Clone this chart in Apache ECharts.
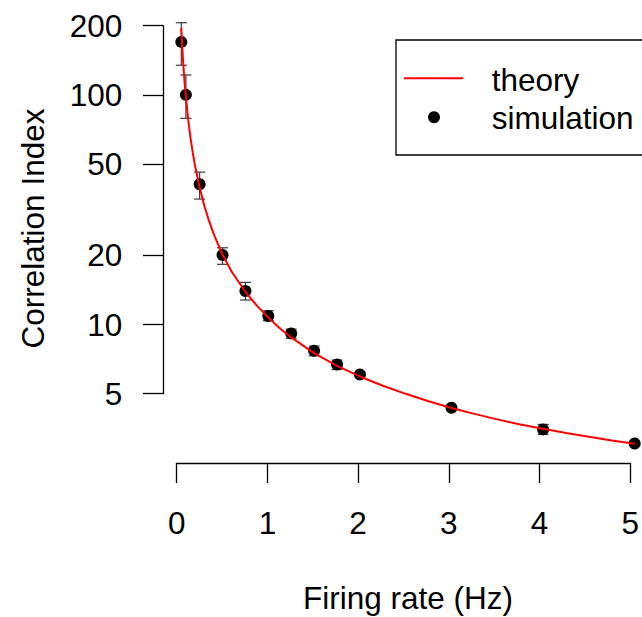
<!DOCTYPE html>
<html>
<head>
<meta charset="utf-8">
<script src="https://cdn.jsdelivr.net/npm/echarts@6/dist/echarts.min.js"></script>
<style>
html,body{margin:0;padding:0;background:#fff;}
#chart{width:642px;height:617px;}
</style>
</head>
<body>
<div id="chart"></div>
<script>
// ---- data ----
const rates   = [0.05, 0.1, 0.25, 0.5, 0.75, 1, 1.25, 1.5, 1.75, 2, 3, 4, 5];
const simMean = [170, 100, 40.8, 20.1, 14.0, 10.9, 9.16, 7.69, 6.71, 6.07, 4.35, 3.50, 3.04];
const simLo   = [134.5, 79, 35.2, 18.3, 12.8, 10.4, 8.72, 7.32, 6.38, 5.95, 4.27, 3.33, 2.99];
const simHi   = [206, 122, 46.1, 21.6, 15.27, 11.5, 9.56, 8.07, 7.01, 6.20, 4.43, 3.68, 3.10];
const theoryX = [0.05, 0.06, 0.07, 0.075, 0.085, 0.1, 0.125, 0.15, 0.175, 0.2, 0.25, 0.3, 0.35, 0.4, 0.45, 0.5, 0.6, 0.75, 0.875, 1, 1.125, 1.25, 1.5, 1.75, 2, 2.25, 2.5, 2.75, 3, 3.25, 3.5, 3.75, 4, 4.25, 4.5, 4.75, 5];
const theoryY = [196, 162, 139, 130, 114, 98, 78, 65, 56, 49, 39.6, 33, 28.5, 25, 22.4, 20.2, 17, 13.9, 12.1, 10.75, 9.65, 8.8, 7.52, 6.62, 5.95, 5.42, 5.0, 4.64, 4.34, 4.09, 3.87, 3.68, 3.52, 3.38, 3.25, 3.13, 3.03];
const xTicks  = [0, 1, 2, 3, 4, 5];
const yTicks  = [5, 10, 20, 50, 100, 200];
const xTitle  = 'Firing rate (Hz)';
const yTitle  = 'Correlation Index';
const legendNames = ['theory', 'simulation'];

const FONT = '"Liberation Sans", Arial, Helvetica, sans-serif';
const FS = 31.5;

const chart = echarts.init(document.getElementById('chart'), null, {renderer: 'svg'});

const simData = rates.map((r, i) => [r, simMean[i]]);
const errData = rates.map((r, i) => [r, simLo[i], simHi[i]]);
const theoryData = theoryX.map((x, i) => [x, theoryY[i]]);
const lg = v => Math.log10(v);

const option = {
  animation: false,
  backgroundColor: '#fff',
  grid: [
    {left: 163, right: 0, top: 3.4, bottom: 154},              // data area
    {left: 176.7, right: 7.4, top: 453, bottom: 154},          // x-axis display
    {left: 163, width: 10, top: 25.7, bottom: 223.3}           // y-axis display
  ],
  xAxis: [
    {gridIndex: 0, type: 'value', min: -0.15, max: 5.08, show: false},
    {gridIndex: 1, type: 'value', min: xTicks[0], max: xTicks[xTicks.length - 1], interval: 1,
      axisLine: {show: true, lineStyle: {color: '#000', width: 1.3}},
      axisTick: {show: true, length: 20, lineStyle: {color: '#000', width: 1.3}},
      axisLabel: {show: true, margin: 43.5, color: '#000', fontSize: FS, fontFamily: FONT},
      splitLine: {show: false}},
    {gridIndex: 2, type: 'value', show: false}
  ],
  yAxis: [
    {gridIndex: 0, type: 'log', min: 2.5, max: 250, show: false},
    {gridIndex: 1, type: 'value', show: false},
    {gridIndex: 2, type: 'value', min: lg(yTicks[0]), max: lg(yTicks[yTicks.length - 1]),
      axisLine: {show: true, lineStyle: {color: '#000', width: 1.3}},
      axisTick: {show: true, length: 20, customValues: yTicks.map(lg), lineStyle: {color: '#000', width: 1.3}},
      axisLabel: {show: true, margin: 40.7, customValues: yTicks.map(lg), color: '#000', fontSize: FS, fontFamily: FONT,
        formatter: v => String(Math.round(Math.pow(10, v)))},
      splitLine: {show: false}}
  ],
  series: [
    {
      name: 'error', type: 'custom', xAxisIndex: 0, yAxisIndex: 0, z: 2,
      data: errData,
      renderItem: function (params, api) {
        const x = api.value(0);
        const pLo = api.coord([x, api.value(1)]);
        const pHi = api.coord([x, api.value(2)]);
        const hw = 5.5;
        const st = {stroke: '#3a3a3a', lineWidth: 1.2};
        return {type: 'group', children: [
          {type: 'line', shape: {x1: pLo[0], y1: pLo[1], x2: pHi[0], y2: pHi[1]}, style: st},
          {type: 'line', shape: {x1: pLo[0] - hw, y1: pLo[1], x2: pLo[0] + hw, y2: pLo[1]}, style: st},
          {type: 'line', shape: {x1: pHi[0] - hw, y1: pHi[1], x2: pHi[0] + hw, y2: pHi[1]}, style: st}
        ]};
      }
    },
    {
      name: legendNames[1], type: 'scatter', xAxisIndex: 0, yAxisIndex: 0, z: 3,
      data: simData, symbol: 'circle', symbolSize: 12,
      itemStyle: {color: '#000', opacity: 1}
    },
    {
      name: legendNames[0], type: 'line', xAxisIndex: 0, yAxisIndex: 0, z: 4,
      data: theoryData, showSymbol: false, smooth: false,
      lineStyle: {color: '#ff0000', width: 2}
    }
  ],
  graphic: [
    {type: 'text', x: 408, y: 598, style: {text: xTitle, fontSize: FS, fontFamily: FONT, fill: '#000', align: 'center', verticalAlign: 'middle'}},
    {type: 'text', x: 33, y: 228.5, rotation: Math.PI / 2, style: {text: yTitle, fontSize: FS, fontFamily: FONT, fill: '#000', align: 'center', verticalAlign: 'middle'}},
    {type: 'rect', shape: {x: 396, y: 40, width: 300, height: 115}, style: {fill: '#fff', stroke: '#000', lineWidth: 1.3}, z: 10},
    {type: 'line', shape: {x1: 404, y1: 78.3, x2: 463, y2: 78.3}, style: {stroke: '#ff0000', lineWidth: 2}, z: 11},
    {type: 'circle', shape: {cx: 434, cy: 117.3, r: 6}, style: {fill: '#000'}, z: 11},
    {type: 'text', x: 491.7, y: 80, style: {text: legendNames[0], fontSize: FS, fontFamily: FONT, fill: '#000', align: 'left', verticalAlign: 'middle'}, z: 11},
    {type: 'text', x: 491.7, y: 117.5, style: {text: legendNames[1], fontSize: FS, fontFamily: FONT, fill: '#000', align: 'left', verticalAlign: 'middle'}, z: 11}
  ]
};
chart.setOption(option);
</script>
</body>
</html>
